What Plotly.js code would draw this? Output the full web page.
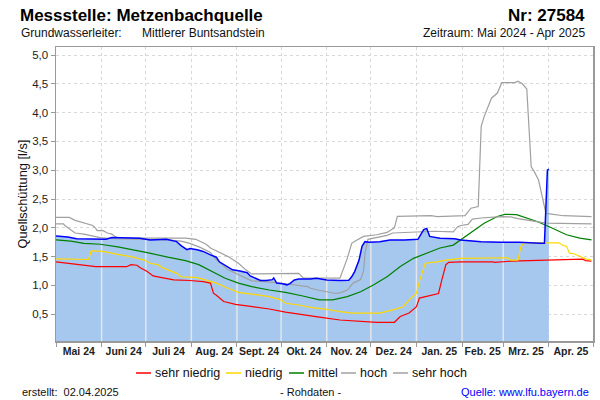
<!DOCTYPE html>
<html><head><meta charset="utf-8">
<script src="https://cdn.plot.ly/plotly-3.0.1.min.js"></script>
<style>html,body{margin:0;padding:0;background:#fff}#chart{width:600px;height:400px}</style>
</head><body><div id="chart"></div>
<script>
// ---------- data ----------
const messDates = ["2024-05-01","2024-05-09","2024-05-15","2024-05-24","2024-05-31","2024-06-04","2024-06-08","2024-06-20","2024-06-27","2024-07-04","2024-07-10","2024-07-15","2024-07-22","2024-07-25","2024-07-29","2024-07-31","2024-08-05","2024-08-09","2024-08-14","2024-08-18","2024-08-20","2024-08-25","2024-08-29","2024-09-03","2024-09-08","2024-09-10","2024-09-13","2024-09-17","2024-09-21","2024-09-25","2024-09-26","2024-09-28","2024-10-02","2024-10-05","2024-10-07","2024-10-10","2024-10-13","2024-10-21","2024-10-25","2024-11-01","2024-11-10","2024-11-16","2024-11-18","2024-11-20","2024-11-23","2024-11-25","2024-11-27","2024-11-30","2024-12-07","2024-12-14","2024-12-24","2025-01-02","2025-01-05","2025-01-06","2025-01-08","2025-01-09","2025-01-10","2025-01-17","2025-01-27","2025-01-31","2025-02-14","2025-02-27","2025-03-12","2025-03-26","2025-03-29","2025-03-31","2025-04-01"];
const messValues = [1.86,1.84,1.81,1.81,1.81,1.80,1.83,1.82,1.82,1.79,1.80,1.80,1.76,1.69,1.62,1.64,1.62,1.59,1.53,1.49,1.41,1.33,1.27,1.25,1.22,1.165,1.125,1.085,1.085,1.10,1.13,1.04,1.03,1.01,1.03,1.095,1.11,1.11,1.125,1.095,1.085,1.09,1.15,1.24,1.44,1.68,1.76,1.75,1.76,1.79,1.79,1.80,1.93,1.97,1.99,1.92,1.85,1.82,1.81,1.79,1.76,1.75,1.75,1.73,1.73,3.00,3.02];

const sehrHochDates = ["2024-05-01","2024-05-10","2024-05-14","2024-05-19","2024-05-24","2024-05-26","2024-05-28","2024-05-29","2024-06-02","2024-06-05","2024-06-08","2024-06-10","2024-06-13","2024-07-28","2024-08-04","2024-08-11","2024-08-14","2024-08-20","2024-08-26","2024-09-02","2024-09-07","2024-09-11","2024-10-13","2024-10-16","2024-11-10","2024-11-15","2024-11-18","2024-11-21","2024-11-26","2024-12-05","2024-12-12","2024-12-17","2024-12-19","2025-01-11","2025-01-15","2025-02-03","2025-02-05","2025-02-07","2025-02-12","2025-02-14","2025-02-16","2025-02-18","2025-02-21","2025-02-25","2025-02-27","2025-02-28","2025-03-09","2025-03-11","2025-03-14","2025-03-17","2025-03-20","2025-03-22","2025-03-25","2025-03-28","2025-03-30","2025-04-11","2025-04-30"];
const sehrHochValues = [2.18,2.18,2.13,2.09,2.06,2.04,1.99,1.95,1.95,1.91,1.89,1.85,1.82,1.82,1.80,1.715,1.65,1.58,1.50,1.385,1.27,1.20,1.21,1.13,1.125,1.47,1.73,1.78,1.85,1.88,1.92,2.00,2.20,2.21,2.195,2.21,2.28,2.34,2.37,3.76,3.93,4.06,4.25,4.34,4.48,4.52,4.52,4.545,4.50,4.41,3.06,2.98,2.83,2.48,2.25,2.21,2.195];

const hochDates = ["2024-05-01","2024-05-06","2024-05-07","2024-05-10","2024-05-11","2024-05-14","2024-05-20","2024-05-26","2024-05-31","2024-06-09","2024-06-27","2024-07-16","2024-07-25","2024-07-31","2024-08-07","2024-08-14","2024-08-17","2024-08-22","2024-08-26","2024-08-31","2024-09-07","2024-09-11","2024-09-22","2024-10-03","2024-10-07","2024-10-19","2024-10-21","2024-10-26","2024-11-01","2024-11-07","2024-11-10","2024-11-15","2024-11-19","2024-11-24","2024-11-26","2024-11-27","2024-11-29","2024-12-12","2024-12-16","2025-01-13","2025-01-26","2025-01-29","2025-01-31","2025-02-05","2025-02-08","2025-02-14","2025-02-27","2025-03-06","2025-03-11","2025-03-22","2025-03-30","2025-04-30"];
const hochValues = [2.07,2.07,2.04,1.99,1.96,1.91,1.89,1.85,1.83,1.81,1.80,1.79,1.77,1.73,1.66,1.57,1.47,1.36,1.27,1.21,1.13,1.08,1.06,1.04,1.02,0.98,0.95,0.92,0.89,0.86,0.87,0.92,1.04,1.10,1.25,1.55,1.80,1.87,1.91,1.94,1.93,2.02,2.04,2.06,2.15,2.17,2.195,2.19,2.16,2.11,2.08,2.07];

const mittelDates = ["2024-05-01","2024-05-11","2024-05-20","2024-05-31","2024-06-12","2024-06-23","2024-07-02","2024-07-16","2024-07-28","2024-08-06","2024-08-15","2024-08-24","2024-09-02","2024-09-11","2024-09-23","2024-10-04","2024-10-15","2024-10-27","2024-11-05","2024-11-15","2024-11-24","2024-12-03","2024-12-12","2024-12-21","2024-12-30","2025-01-08","2025-01-17","2025-01-26","2025-01-31","2025-02-07","2025-02-16","2025-02-25","2025-03-02","2025-03-10","2025-03-17","2025-03-24","2025-04-02","2025-04-13","2025-04-22","2025-04-30"];
const mittelValues = [1.79,1.77,1.73,1.715,1.67,1.62,1.57,1.49,1.43,1.36,1.24,1.125,1.04,0.98,0.92,0.88,0.82,0.75,0.75,0.805,0.89,1.01,1.15,1.33,1.47,1.56,1.65,1.70,1.79,1.93,2.08,2.195,2.235,2.23,2.17,2.11,2.01,1.88,1.82,1.79];

const niedrigDates = ["2024-05-01","2024-05-23","2024-05-25","2024-06-02","2024-06-12","2024-06-21","2024-06-30","2024-07-04","2024-07-09","2024-07-13","2024-07-22","2024-07-25","2024-08-05","2024-08-10","2024-08-18","2024-08-26","2024-09-02","2024-09-11","2024-09-23","2024-10-01","2024-10-04","2024-10-13","2024-10-22","2024-10-31","2024-11-10","2024-11-19","2024-12-07","2024-12-16","2024-12-23","2024-12-27","2025-01-01","2025-01-03","2025-01-07","2025-01-15","2025-01-21","2025-01-31","2025-02-27","2025-03-04","2025-03-06","2025-03-11","2025-03-13","2025-03-15","2025-04-08","2025-04-11","2025-04-13","2025-04-15","2025-04-18","2025-04-23","2025-04-26","2025-04-30"];
const niedrigValues = [1.46,1.45,1.60,1.59,1.54,1.50,1.44,1.385,1.36,1.30,1.21,1.15,1.135,1.095,1.04,0.95,0.88,0.85,0.805,0.75,0.69,0.66,0.615,0.59,0.545,0.52,0.52,0.575,0.63,0.75,0.865,1.07,1.385,1.41,1.44,1.47,1.48,1.48,1.44,1.44,1.67,1.74,1.74,1.69,1.68,1.56,1.55,1.50,1.46,1.44];

const sehrNiedrigDates = ["2024-05-01","2024-05-11","2024-05-20","2024-05-28","2024-06-18","2024-06-21","2024-06-25","2024-06-27","2024-07-02","2024-07-06","2024-07-11","2024-07-20","2024-07-31","2024-08-09","2024-08-14","2024-08-16","2024-08-18","2024-08-23","2024-08-31","2024-09-11","2024-09-23","2024-10-04","2024-10-15","2024-10-27","2024-11-10","2024-12-05","2024-12-17","2024-12-21","2024-12-27","2025-01-01","2025-01-03","2025-01-13","2025-01-16","2025-01-18","2025-01-21","2025-01-23","2025-01-31","2025-02-22","2025-02-23","2025-03-06","2025-04-04","2025-04-06","2025-04-24","2025-04-26","2025-04-30"];
const sehrNiedrigValues = [1.41,1.375,1.34,1.325,1.325,1.36,1.35,1.31,1.24,1.165,1.14,1.095,1.085,1.065,1.04,0.865,0.83,0.72,0.67,0.63,0.59,0.535,0.50,0.45,0.40,0.36,0.36,0.46,0.52,0.63,0.78,0.85,0.86,1.07,1.36,1.40,1.41,1.41,1.40,1.42,1.44,1.445,1.455,1.43,1.42];

const monthStarts = ["2024-05-01","2024-06-01","2024-07-01","2024-08-01","2024-09-01","2024-10-01","2024-11-01","2024-12-01","2025-01-01","2025-02-01","2025-03-01","2025-04-01","2025-05-01"];
const monthLabels = ["Mai 24","Juni 24","Juli 24","Aug. 24","Sept. 24","Okt. 24","Nov. 24","Dez. 24","Jan. 25","Feb. 25","Mrz. 25","Apr. 25"];
const seriesNames = ["sehr niedrig","niedrig","mittel","hoch","sehr hoch"];
const seriesColors = ["#ff0000","#ffd800","#008000","#a0a0a0","#a0a0a0"];

// ---------- helpers ----------
const W=600, H=400, M={l:56, r:7, t:47, b:59};
const PW=W-M.l-M.r, PH=H-M.t-M.b;
const px = x => (x - M.l)/PW;
const py = y => (H - M.b - y)/PH;
const t = d => Date.parse(d + "T00:00:00Z");
const iso = ms => new Date(ms).toISOString().slice(0,19).replace("T"," ");
const yRange = [0.035, 5.139];
const font = "Liberation Sans, Arial, sans-serif";

// mid-month label positions
const midMonths = monthLabels.map((_, i) => iso((t(monthStarts[i]) + t(monthStarts[i+1]))/2));

// light month lines inside the filled area (up to the measured value)
function valueAt(dates, vals, d){
  const tt = t(d);
  for (let i=0;i<dates.length-1;i++){
    const a=t(dates[i]), b=t(dates[i+1]);
    if (tt>=a && tt<=b) return vals[i] + (vals[i+1]-vals[i])*(tt-a)/(b-a);
  }
  return null;
}
const gx=[], gy=[];
const lastMess = t(messDates[messDates.length-1]);
monthStarts.slice(1).forEach(m => {
  if (t(m) >= lastMess) return;
  const v = valueAt(messDates, messValues, m);
  if (v===null) return;
  gx.push(m, m, null); gy.push(yRange[0], v, null);
});

const seriesData = [
  [sehrNiedrigDates, sehrNiedrigValues],
  [niedrigDates, niedrigValues],
  [mittelDates, mittelValues],
  [hochDates, hochValues],
  [sehrHochDates, sehrHochValues]
];

const traces = [
  {x: messDates, y: messValues, type:"scatter", mode:"lines", fill:"tozeroy",
   fillcolor:"#a6c8ef", line:{width:0, color:"#a6c8ef"}, showlegend:false, hoverinfo:"skip"},
  {x: gx, y: gy, type:"scatter", mode:"lines", line:{color:"#e2e6ea", width:1.5},
   showlegend:false, hoverinfo:"skip"}
];
seriesData.forEach((s, i) => traces.push({
  x: s[0], y: s[1], type:"scatter", mode:"lines", name: seriesNames[i],
  line:{color: seriesColors[i], width:1.2}, showlegend:false
}));
traces.push({x: messDates, y: messValues, type:"scatter", mode:"lines", name:"Messwert",
  line:{color:"#0000ff", width:1.5}, showlegend:false});

// ---------- texts ----------
const ann = [];
function txt(text, x, y, opts){
  ann.push(Object.assign({text, xref:"paper", yref:"paper", x:px(x), y:py(y),
    xanchor:"left", yanchor:"middle", showarrow:false, borderpad:0,
    font:{family:font, size:12, color:"#111"}}, opts||{}));
}
txt("Messstelle: Metzenbachquelle", 19, 15, {font:{family:font, size:17, weight:"bold", color:"#000"}});
txt("Nr: 27584", 586, 15, {xanchor:"right", font:{family:font, size:17, weight:"bold", color:"#000"}});
txt("Grundwasserleiter:", 20, 33);
txt("Mittlerer Buntsandstein", 141, 33);
txt("Zeitraum: Mai 2024 - Apr 2025", 586, 33, {xanchor:"right"});
txt("Quellschüttung [l/s]", 21.5, 194, {xanchor:"center", textangle:-90, font:{family:font, size:12.8, color:"#111"}});
txt("erstellt:\u00a0\u00a002.04.2025", 21, 392, {font:{family:font, size:11, color:"#111"}});
txt("- Rohdaten -", 310, 392, {xanchor:"center", font:{family:font, size:11, color:"#111"}});
txt("Quelle: www.lfu.bayern.de", 590, 392, {xanchor:"right", font:{family:font, size:11, color:"#0000ff"}});

// legend (drawn manually to match the compact original)
const legendLineX = [136, 226, 289, 341, 393];
const legendY = 373;
const shapes = [];
seriesNames.forEach((n, i) => {
  shapes.push({type:"line", xref:"paper", yref:"paper",
    x0:px(legendLineX[i]), x1:px(legendLineX[i]+15), y0:py(legendY), y1:py(legendY),
    line:{color:seriesColors[i], width:1.5}});
  txt(n, legendLineX[i]+18, legendY, {font:{family:font, size:12.5, color:"#111"}});
});

const axisCommon = {showline:true, linecolor:"#9a9a9a", linewidth:1.5, mirror:true, zeroline:false};

const layout = {
  width:W, height:H, margin:M, paper_bgcolor:"#fff", plot_bgcolor:"#fff",
  separators:",.", showlegend:false, font:{family:font, color:"#111"},
  xaxis: Object.assign({}, axisCommon, {
    type:"date", range:[monthStarts[0], monthStarts[monthStarts.length-1]],
    tickmode:"array", tickvals: midMonths, ticktext: monthLabels, ticks:"",
    showgrid:false, tickfont:{family:font, size:10.5, weight:"bold", color:"#222"},
    minor:{tickmode:"array", tickvals: monthStarts, ticks:"outside", ticklen:4, tickcolor:"#9a9a9a",
      showgrid:true, gridcolor:"#d8d8d8", griddash:"3px,3px", gridwidth:1}
  }),
  yaxis: Object.assign({}, axisCommon, {
    range:yRange, tickmode:"linear", tick0:0.5, dtick:0.5, tickformat:".1f",
    ticks:"outside", ticklen:4, tickcolor:"#9a9a9a",
    showgrid:true, gridcolor:"#d8d8d8", griddash:"3px,3px", gridwidth:1,
    tickfont:{family:font, size:11.5, color:"#222"}
  }),
  annotations: ann, shapes: shapes
};

Plotly.newPlot("chart", traces, layout, {displayModeBar:false, staticPlot:true});
</script>
</body></html>
